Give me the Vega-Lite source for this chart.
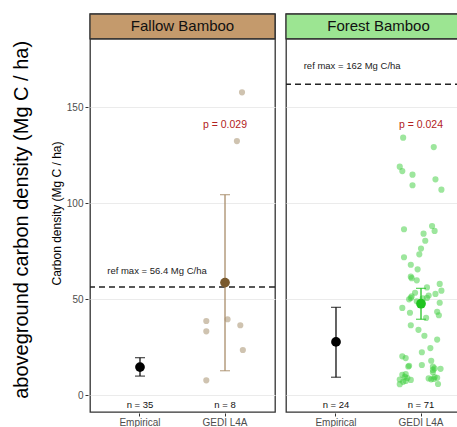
{
  "$schema": "https://vega.github.io/schema/vega-lite/v6.json",
  "padding": {"top": 12, "left": 12, "right": 0, "bottom": 0},
  "title": {"text": "aboveground carbon density (Mg C / ha)", "orient": "left", "anchor": "middle", "fontSize": 20, "font": "Liberation Sans", "fontWeight": "normal", "color": "#000", "offset": 18},
  "data": {"values": [
    {"panel": "Fallow Bamboo", "kind": "header", "value": 185.6, "hi": 198.6, "mid": 192.1, "label": "Fallow Bamboo"},
    {"panel": "Forest Bamboo", "kind": "header", "value": 185.6, "hi": 198.6, "mid": 192.1, "label": "Forest Bamboo"},
    {"panel": "Fallow Bamboo", "kind": "ref", "value": 56.4},
    {"panel": "Forest Bamboo", "kind": "ref", "value": 162},
    {"panel": "Fallow Bamboo", "kind": "reftext", "group": "Empirical", "jitter": 0.2, "value": 65, "label": "ref max = 56.4 Mg C/ha"},
    {"panel": "Forest Bamboo", "kind": "reftext", "group": "Empirical", "jitter": 0.19, "value": 171.5, "label": "ref max = 162 Mg C/ha"},
    {"panel": "Fallow Bamboo", "kind": "ptext", "group": "GEDI L4A", "jitter": 0, "value": 140.8, "label": "p = 0.029"},
    {"panel": "Forest Bamboo", "kind": "ptext", "group": "GEDI L4A", "jitter": 0, "value": 140.8, "label": "p = 0.024"},
    {"panel": "Fallow Bamboo", "kind": "ntext", "group": "Empirical", "jitter": 0, "value": -4.9, "label": "n = 35"},
    {"panel": "Fallow Bamboo", "kind": "ntext", "group": "GEDI L4A", "jitter": 0, "value": -4.9, "label": "n = 8"},
    {"panel": "Forest Bamboo", "kind": "ntext", "group": "Empirical", "jitter": 0, "value": -4.9, "label": "n = 24"},
    {"panel": "Forest Bamboo", "kind": "ntext", "group": "GEDI L4A", "jitter": 0, "value": -4.9, "label": "n = 71"},
    {"panel": "Fallow Bamboo", "kind": "sum", "group": "Empirical", "series": "Empirical", "value": 14.7, "lo": 10.0, "hi": 19.6},
    {"panel": "Fallow Bamboo", "kind": "sum", "group": "GEDI L4A", "series": "Fallow GEDI", "value": 58.7, "lo": 12.8, "hi": 104.5},
    {"panel": "Forest Bamboo", "kind": "sum", "group": "Empirical", "series": "Empirical", "value": 27.8, "lo": 9.4, "hi": 45.8},
    {"panel": "Forest Bamboo", "kind": "sum", "group": "GEDI L4A", "series": "Forest GEDI", "value": 47.7, "lo": 39.6, "hi": 55.7},
    {"panel": "Fallow Bamboo", "kind": "pt", "group": "GEDI L4A", "series": "Fallow GEDI", "value": 157.8, "jitter": 0.2},
    {"panel": "Fallow Bamboo", "kind": "pt", "group": "GEDI L4A", "series": "Fallow GEDI", "value": 132.4, "jitter": 0.14},
    {"panel": "Fallow Bamboo", "kind": "pt", "group": "GEDI L4A", "series": "Fallow GEDI", "value": 38.7, "jitter": -0.22},
    {"panel": "Fallow Bamboo", "kind": "pt", "group": "GEDI L4A", "series": "Fallow GEDI", "value": 33.3, "jitter": -0.22},
    {"panel": "Fallow Bamboo", "kind": "pt", "group": "GEDI L4A", "series": "Fallow GEDI", "value": 39.6, "jitter": 0.03},
    {"panel": "Fallow Bamboo", "kind": "pt", "group": "GEDI L4A", "series": "Fallow GEDI", "value": 36.5, "jitter": 0.18},
    {"panel": "Fallow Bamboo", "kind": "pt", "group": "GEDI L4A", "series": "Fallow GEDI", "value": 23.6, "jitter": 0.21},
    {"panel": "Fallow Bamboo", "kind": "pt", "group": "GEDI L4A", "series": "Fallow GEDI", "value": 7.8, "jitter": -0.22},
    {"panel": "Forest Bamboo", "kind": "pt", "group": "GEDI L4A", "series": "Forest GEDI", "value": 134.2, "jitter": -0.21},
    {"panel": "Forest Bamboo", "kind": "pt", "group": "GEDI L4A", "series": "Forest GEDI", "value": 129.3, "jitter": 0.15},
    {"panel": "Forest Bamboo", "kind": "pt", "group": "GEDI L4A", "series": "Forest GEDI", "value": 119.1, "jitter": -0.25},
    {"panel": "Forest Bamboo", "kind": "pt", "group": "GEDI L4A", "series": "Forest GEDI", "value": 116.8, "jitter": -0.22},
    {"panel": "Forest Bamboo", "kind": "pt", "group": "GEDI L4A", "series": "Forest GEDI", "value": 114.9, "jitter": -0.1},
    {"panel": "Forest Bamboo", "kind": "pt", "group": "GEDI L4A", "series": "Forest GEDI", "value": 112.5, "jitter": 0.17},
    {"panel": "Forest Bamboo", "kind": "pt", "group": "GEDI L4A", "series": "Forest GEDI", "value": 109.4, "jitter": -0.1},
    {"panel": "Forest Bamboo", "kind": "pt", "group": "GEDI L4A", "series": "Forest GEDI", "value": 107.1, "jitter": 0.24},
    {"panel": "Forest Bamboo", "kind": "pt", "group": "GEDI L4A", "series": "Forest GEDI", "value": 86.5, "jitter": -0.2},
    {"panel": "Forest Bamboo", "kind": "pt", "group": "GEDI L4A", "series": "Forest GEDI", "value": 88.2, "jitter": 0.13},
    {"panel": "Forest Bamboo", "kind": "pt", "group": "GEDI L4A", "series": "Forest GEDI", "value": 85.6, "jitter": 0.16},
    {"panel": "Forest Bamboo", "kind": "pt", "group": "GEDI L4A", "series": "Forest GEDI", "value": 84.2, "jitter": 0.03},
    {"panel": "Forest Bamboo", "kind": "pt", "group": "GEDI L4A", "series": "Forest GEDI", "value": 80.5, "jitter": 0.05},
    {"panel": "Forest Bamboo", "kind": "pt", "group": "GEDI L4A", "series": "Forest GEDI", "value": 76.4, "jitter": 0.0},
    {"panel": "Forest Bamboo", "kind": "pt", "group": "GEDI L4A", "series": "Forest GEDI", "value": 73.4, "jitter": -0.02},
    {"panel": "Forest Bamboo", "kind": "pt", "group": "GEDI L4A", "series": "Forest GEDI", "value": 71.9, "jitter": -0.2},
    {"panel": "Forest Bamboo", "kind": "pt", "group": "GEDI L4A", "series": "Forest GEDI", "value": 68.0, "jitter": -0.12},
    {"panel": "Forest Bamboo", "kind": "pt", "group": "GEDI L4A", "series": "Forest GEDI", "value": 65.6, "jitter": -0.04},
    {"panel": "Forest Bamboo", "kind": "pt", "group": "GEDI L4A", "series": "Forest GEDI", "value": 61.8, "jitter": -0.12},
    {"panel": "Forest Bamboo", "kind": "pt", "group": "GEDI L4A", "series": "Forest GEDI", "value": 61.0, "jitter": -0.11},
    {"panel": "Forest Bamboo", "kind": "pt", "group": "GEDI L4A", "series": "Forest GEDI", "value": 59.9, "jitter": -0.05},
    {"panel": "Forest Bamboo", "kind": "pt", "group": "GEDI L4A", "series": "Forest GEDI", "value": 58.0, "jitter": 0.22},
    {"panel": "Forest Bamboo", "kind": "pt", "group": "GEDI L4A", "series": "Forest GEDI", "value": 56.2, "jitter": 0.07},
    {"panel": "Forest Bamboo", "kind": "pt", "group": "GEDI L4A", "series": "Forest GEDI", "value": 54.5, "jitter": 0.24},
    {"panel": "Forest Bamboo", "kind": "pt", "group": "GEDI L4A", "series": "Forest GEDI", "value": 53.4, "jitter": -0.07},
    {"panel": "Forest Bamboo", "kind": "pt", "group": "GEDI L4A", "series": "Forest GEDI", "value": 52.8, "jitter": 0.17},
    {"panel": "Forest Bamboo", "kind": "pt", "group": "GEDI L4A", "series": "Forest GEDI", "value": 50.7, "jitter": -0.12},
    {"panel": "Forest Bamboo", "kind": "pt", "group": "GEDI L4A", "series": "Forest GEDI", "value": 50.0, "jitter": -0.14},
    {"panel": "Forest Bamboo", "kind": "pt", "group": "GEDI L4A", "series": "Forest GEDI", "value": 49.0, "jitter": -0.05},
    {"panel": "Forest Bamboo", "kind": "pt", "group": "GEDI L4A", "series": "Forest GEDI", "value": 50.7, "jitter": 0.07},
    {"panel": "Forest Bamboo", "kind": "pt", "group": "GEDI L4A", "series": "Forest GEDI", "value": 48.2, "jitter": 0.22},
    {"panel": "Forest Bamboo", "kind": "pt", "group": "GEDI L4A", "series": "Forest GEDI", "value": 45.5, "jitter": -0.22},
    {"panel": "Forest Bamboo", "kind": "pt", "group": "GEDI L4A", "series": "Forest GEDI", "value": 43.0, "jitter": -0.13},
    {"panel": "Forest Bamboo", "kind": "pt", "group": "GEDI L4A", "series": "Forest GEDI", "value": 43.5, "jitter": 0.19},
    {"panel": "Forest Bamboo", "kind": "pt", "group": "GEDI L4A", "series": "Forest GEDI", "value": 41.7, "jitter": 0.21},
    {"panel": "Forest Bamboo", "kind": "pt", "group": "GEDI L4A", "series": "Forest GEDI", "value": 40.3, "jitter": 0.06},
    {"panel": "Forest Bamboo", "kind": "pt", "group": "GEDI L4A", "series": "Forest GEDI", "value": 36.5, "jitter": -0.12},
    {"panel": "Forest Bamboo", "kind": "pt", "group": "GEDI L4A", "series": "Forest GEDI", "value": 34.1, "jitter": -0.03},
    {"panel": "Forest Bamboo", "kind": "pt", "group": "GEDI L4A", "series": "Forest GEDI", "value": 31.0, "jitter": 0.04},
    {"panel": "Forest Bamboo", "kind": "pt", "group": "GEDI L4A", "series": "Forest GEDI", "value": 29.0, "jitter": 0.19},
    {"panel": "Forest Bamboo", "kind": "pt", "group": "GEDI L4A", "series": "Forest GEDI", "value": 24.6, "jitter": 0.11},
    {"panel": "Forest Bamboo", "kind": "pt", "group": "GEDI L4A", "series": "Forest GEDI", "value": 22.4, "jitter": 0.01},
    {"panel": "Forest Bamboo", "kind": "pt", "group": "GEDI L4A", "series": "Forest GEDI", "value": 20.3, "jitter": -0.22},
    {"panel": "Forest Bamboo", "kind": "pt", "group": "GEDI L4A", "series": "Forest GEDI", "value": 19.4, "jitter": -0.18},
    {"panel": "Forest Bamboo", "kind": "pt", "group": "GEDI L4A", "series": "Forest GEDI", "value": 18.0, "jitter": 0.12},
    {"panel": "Forest Bamboo", "kind": "pt", "group": "GEDI L4A", "series": "Forest GEDI", "value": 15.4, "jitter": -0.14},
    {"panel": "Forest Bamboo", "kind": "pt", "group": "GEDI L4A", "series": "Forest GEDI", "value": 15.8, "jitter": 0.01},
    {"panel": "Forest Bamboo", "kind": "pt", "group": "GEDI L4A", "series": "Forest GEDI", "value": 14.9, "jitter": 0.14},
    {"panel": "Forest Bamboo", "kind": "pt", "group": "GEDI L4A", "series": "Forest GEDI", "value": 13.8, "jitter": 0.23},
    {"panel": "Forest Bamboo", "kind": "pt", "group": "GEDI L4A", "series": "Forest GEDI", "value": 13.2, "jitter": 0.14},
    {"panel": "Forest Bamboo", "kind": "pt", "group": "GEDI L4A", "series": "Forest GEDI", "value": 10.7, "jitter": -0.22},
    {"panel": "Forest Bamboo", "kind": "pt", "group": "GEDI L4A", "series": "Forest GEDI", "value": 9.6, "jitter": -0.19},
    {"panel": "Forest Bamboo", "kind": "pt", "group": "GEDI L4A", "series": "Forest GEDI", "value": 9.0, "jitter": -0.16},
    {"panel": "Forest Bamboo", "kind": "pt", "group": "GEDI L4A", "series": "Forest GEDI", "value": 8.0, "jitter": -0.12},
    {"panel": "Forest Bamboo", "kind": "pt", "group": "GEDI L4A", "series": "Forest GEDI", "value": 8.2, "jitter": -0.25},
    {"panel": "Forest Bamboo", "kind": "pt", "group": "GEDI L4A", "series": "Forest GEDI", "value": 5.8, "jitter": -0.25},
    {"panel": "Forest Bamboo", "kind": "pt", "group": "GEDI L4A", "series": "Forest GEDI", "value": 8.8, "jitter": 0.09},
    {"panel": "Forest Bamboo", "kind": "pt", "group": "GEDI L4A", "series": "Forest GEDI", "value": 8.3, "jitter": 0.12},
    {"panel": "Forest Bamboo", "kind": "pt", "group": "GEDI L4A", "series": "Forest GEDI", "value": 9.1, "jitter": 0.19},
    {"panel": "Forest Bamboo", "kind": "pt", "group": "GEDI L4A", "series": "Forest GEDI", "value": 5.9, "jitter": 0.2},
    {"panel": "Forest Bamboo", "kind": "pt", "group": "GEDI L4A", "series": "Forest GEDI", "value": 14.0, "jitter": 0.16},
    {"panel": "Forest Bamboo", "kind": "pt", "group": "GEDI L4A", "series": "Forest GEDI", "value": 7.0, "jitter": -0.21},
    {"panel": "Forest Bamboo", "kind": "pt", "group": "GEDI L4A", "series": "Forest GEDI", "value": 8.5, "jitter": 0.15},
    {"panel": "Forest Bamboo", "kind": "pt", "group": "GEDI L4A", "series": "Forest GEDI", "value": 51.5, "jitter": -0.11},
    {"panel": "Forest Bamboo", "kind": "pt", "group": "GEDI L4A", "series": "Forest GEDI", "value": 11.0, "jitter": -0.18},
    {"panel": "Forest Bamboo", "kind": "pt", "group": "GEDI L4A", "series": "Forest GEDI", "value": 9.5, "jitter": 0.16},
    {"panel": "Forest Bamboo", "kind": "pt", "group": "GEDI L4A", "series": "Forest GEDI", "value": 15.0, "jitter": -0.15},
    {"panel": "Forest Bamboo", "kind": "pt", "group": "GEDI L4A", "series": "Forest GEDI", "value": 50.5, "jitter": 0.02},
    {"panel": "Forest Bamboo", "kind": "pt", "group": "GEDI L4A", "series": "Forest GEDI", "value": 7.5, "jitter": -0.18},
    {"panel": "Forest Bamboo", "kind": "pt", "group": "GEDI L4A", "series": "Forest GEDI", "value": 12.0, "jitter": 0.14},
    {"panel": "Forest Bamboo", "kind": "pt", "group": "GEDI L4A", "series": "Forest GEDI", "value": 52.0, "jitter": 0.09}
  ]},
  "facet": {"column": {"field": "panel", "type": "nominal", "sort": ["Fallow Bamboo", "Forest Bamboo"], "header": {"title": null, "labels": false}}},
  "spacing": 7,
  "spec": {
    "width": 185,
    "height": 398,
    "encoding": {
      "y": {"field": "value", "type": "quantitative", "scale": {"domain": [-8.7, 198.6], "nice": false, "zero": false},
        "axis": {"values": [0, 50, 100, 150], "title": "Carbon density (Mg C / ha)", "titleFontSize": 12, "titleFontWeight": "normal", "titleColor": "#000", "titlePadding": 3, "labelColor": "#4d4d4d", "labelFontSize": 10, "domain": false, "tickColor": "#333", "tickSize": 3, "grid": true, "gridColor": "#ebebeb", "gridWidth": 1}}
    },
    "resolve": {"scale": {"color": "independent", "fill": "independent"}},
    "layer": [
      {
        "transform": [{"filter": "datum.kind === 'header'"}],
        "mark": {"type": "rect", "stroke": "#333", "strokeWidth": 1.3},
        "encoding": {
          "y2": {"field": "hi"},
          "fill": {"field": "panel", "type": "nominal", "scale": {"domain": ["Fallow Bamboo", "Forest Bamboo"], "range": ["#c49a6c", "#9ce592"]}, "legend": null}
        }
      },
      {
        "transform": [{"filter": "datum.kind === 'header'"}],
        "mark": {"type": "text", "fontSize": 15, "font": "Liberation Sans", "color": "#111", "baseline": "middle"},
        "encoding": {"y": {"field": "mid", "type": "quantitative"}, "text": {"field": "label"}}
      },
      {
        "transform": [{"filter": "datum.kind === 'ref'"}],
        "mark": {"type": "rule", "color": "#222", "strokeWidth": 1.5, "strokeDash": [6, 4]},
        "encoding": {}
      },
      {
        "transform": [{"filter": "datum.kind === 'pt'"}],
        "mark": {"type": "circle", "size": 38, "opacity": 0.5},
        "encoding": {
          "x": {"field": "group", "type": "nominal", "sort": ["Empirical", "GEDI L4A"], "scale": {"domain": ["Empirical", "GEDI L4A"], "paddingInner": 0, "paddingOuter": 0.088},
            "axis": {"title": null, "labelAngle": 0, "labelColor": "#4d4d4d", "labelFontSize": 10, "domain": false, "tickColor": "#333", "tickSize": 3, "labelPadding": 1}},
          "xOffset": {"field": "jitter", "type": "quantitative", "scale": {"domain": [-0.5, 0.5]}},
          "color": {"field": "series", "type": "nominal", "scale": {"domain": ["Fallow GEDI", "Forest GEDI"], "range": ["#a08862", "#3ccd3c"]}, "legend": null}
        }
      },
      {
        "transform": [{"filter": "datum.kind === 'sum'"}],
        "mark": {"type": "rule", "strokeWidth": 1.3},
        "encoding": {
          "x": {"field": "group", "type": "nominal"},
          "y": {"field": "lo", "type": "quantitative"},
          "y2": {"field": "hi"},
          "color": {"field": "series", "type": "nominal", "scale": {"domain": ["Empirical", "Fallow GEDI", "Forest GEDI"], "range": ["#111111", "#a88d6a", "#22c322"]}, "legend": null}
        }
      },
      {
        "transform": [{"filter": "datum.kind === 'sum'"}],
        "mark": {"type": "tick", "size": 10, "thickness": 1.3},
        "encoding": {
          "x": {"field": "group", "type": "nominal"},
          "y": {"field": "lo", "type": "quantitative"},
          "color": {"field": "series", "type": "nominal", "scale": {"domain": ["Empirical", "Fallow GEDI", "Forest GEDI"], "range": ["#111111", "#a88d6a", "#22c322"]}, "legend": null}
        }
      },
      {
        "transform": [{"filter": "datum.kind === 'sum'"}],
        "mark": {"type": "tick", "size": 10, "thickness": 1.3},
        "encoding": {
          "x": {"field": "group", "type": "nominal"},
          "y": {"field": "hi", "type": "quantitative"},
          "color": {"field": "series", "type": "nominal", "scale": {"domain": ["Empirical", "Fallow GEDI", "Forest GEDI"], "range": ["#111111", "#a88d6a", "#22c322"]}, "legend": null}
        }
      },
      {
        "transform": [{"filter": "datum.kind === 'sum'"}],
        "mark": {"type": "circle", "size": 95, "opacity": 1},
        "encoding": {
          "x": {"field": "group", "type": "nominal"},
          "color": {"field": "series", "type": "nominal", "scale": {"domain": ["Empirical", "Fallow GEDI", "Forest GEDI"], "range": ["#000000", "#7a5a2e", "#1fc41f"]}, "legend": null}
        }
      },
      {
        "transform": [{"filter": "datum.kind === 'reftext'"}],
        "mark": {"type": "text", "fontSize": 9.5, "font": "Liberation Sans", "color": "#222", "baseline": "middle"},
        "encoding": {
          "x": {"field": "group", "type": "nominal"},
          "xOffset": {"field": "jitter", "type": "quantitative", "scale": {"domain": [-0.5, 0.5]}},
          "text": {"field": "label"}
        }
      },
      {
        "transform": [{"filter": "datum.kind === 'ptext'"}],
        "mark": {"type": "text", "fontSize": 10.5, "font": "Liberation Sans", "color": "#b22222", "baseline": "middle"},
        "encoding": {"x": {"field": "group", "type": "nominal"}, "text": {"field": "label"}}
      },
      {
        "transform": [{"filter": "datum.kind === 'ntext'"}],
        "mark": {"type": "text", "fontSize": 9.5, "font": "Liberation Sans", "color": "#111", "baseline": "middle"},
        "encoding": {"x": {"field": "group", "type": "nominal"}, "text": {"field": "label"}}
      },
      {
        "transform": [{"filter": "datum.kind === 'header'"}],
        "mark": {"type": "rule", "color": "#333", "strokeWidth": 1.3},
        "encoding": {}
      }
    ]
  },
  "config": {
    "view": {"stroke": "#333", "strokeWidth": 1.3},
    "font": "Liberation Sans",
    "axis": {"labelFont": "Liberation Sans", "titleFont": "Liberation Sans"}
  }
}
